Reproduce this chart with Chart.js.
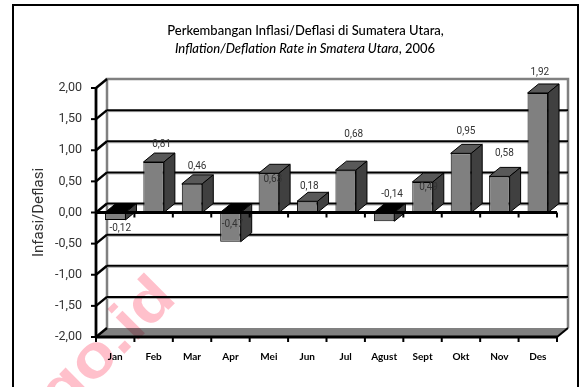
<!DOCTYPE html>
<html><head><meta charset="utf-8">
<style>html,body{margin:0;padding:0;background:#fff}canvas{display:block}</style>
<script src="https://cdn.jsdelivr.net/npm/chart.js@4/dist/chart.umd.min.js"></script>
</head><body><canvas id="c" width="581" height="387"></canvas>
<script>
const categories = ['Jan','Feb','Mar','Apr','Mei','Jun','Jul','Agust','Sept','Okt','Nov','Des'];
const inflasi = [-0.12,0.81,0.46,-0.47,0.63,0.18,0.68,-0.14,0.49,0.95,0.58,1.92];
const titleLine1 = 'Perkembangan Inflasi/Deflasi di Sumatera Utara,';
const titleLine2Italic = 'Inflation/Deflation Rate in Smatera Utara';
const titleLine2Plain = ', 2006';
const axisTitle = 'Infasi/Deflasi';
const watermark = 'go.id';

// label placement relative to each bar (layout, not data)
const labelDx = [5,8,5,2,4,2,8,8,6,5,5,2];
const labelDy = [9,-18,-17,-17,6,-15,-36,-27,6,-22,-23,-20];
const DEPTH_X = 11, DEPTH_Y = 9;
const comma = v => v.toFixed(2).replace('.',',');
const NARROW = 'Roboto,sans-serif';

const chart3d = {
  id:'chart3d',
  beforeDatasetsDraw(chart){
    const c = chart.ctx, y = chart.scales.y;
    const a = chart.chartArea;
    const L = a.left, R = a.right, T = a.top, B = a.bottom;
    c.save();
    // frame
    c.strokeStyle='#000'; c.lineWidth=2;
    c.strokeRect(13,5,565,400);
    // floor
    c.fillStyle='#808080';
    c.beginPath();c.moveTo(L,B);c.lineTo(L+DEPTH_X,B-DEPTH_Y);c.lineTo(R+DEPTH_X,B-DEPTH_Y);c.lineTo(R,B);c.closePath();c.fill();
    // walls
    c.strokeStyle='#808080'; c.lineWidth=2.5;
    c.beginPath();c.moveTo(L+DEPTH_X,B-DEPTH_Y);c.lineTo(L+DEPTH_X,T-DEPTH_Y);c.lineTo(R+DEPTH_X,T-DEPTH_Y);c.lineTo(R+DEPTH_X,B-DEPTH_Y);c.stroke();
    // grid lines on the back wall and the diagonals on the side wall
    y.ticks.forEach(t=>{
      const p = y.getPixelForValue(t.value);
      c.strokeStyle='#000'; c.lineWidth=2.4;
      c.beginPath();c.moveTo(L,p);c.lineTo(L+DEPTH_X,p-DEPTH_Y);c.stroke();
      c.lineWidth=2; c.beginPath();c.moveTo(L-5,p);c.lineTo(L,p);c.stroke();
      if(t.value===y.max||t.value===y.min) return;
      c.strokeStyle='#a8a8a8'; c.lineWidth=1;
      c.beginPath();c.moveTo(L+DEPTH_X,p-DEPTH_Y+1.5);c.lineTo(R+DEPTH_X,p-DEPTH_Y+1.5);c.stroke();
      c.strokeStyle='#000'; c.lineWidth=2;
      c.beginPath();c.moveTo(L+DEPTH_X,p-DEPTH_Y);c.lineTo(R+DEPTH_X,p-DEPTH_Y);c.stroke();
    });
    // front-right floor diagonal
    c.strokeStyle='#000'; c.lineWidth=2;
    c.beginPath();c.moveTo(R,B);c.lineTo(R+DEPTH_X,B-DEPTH_Y);c.stroke();
    // bar depth faces
    const z = y.getPixelForValue(0);
    const meta = chart.getDatasetMeta(0);
    c.strokeStyle='#000'; c.lineWidth=1;
    meta.data.forEach(b=>{
      const w = b.width/2, l = b.x-w, r = b.x+w;
      const top = Math.min(b.y,z), bot = Math.max(b.y,z);
      c.fillStyle = b.y<z ? '#595959' : '#000';
      c.beginPath();c.moveTo(l,top);c.lineTo(l+DEPTH_X,top-DEPTH_Y);c.lineTo(r+DEPTH_X,top-DEPTH_Y);c.lineTo(r,top);c.closePath();c.fill();c.stroke();
      c.fillStyle='#404040';
      c.beginPath();c.moveTo(r,top);c.lineTo(r+DEPTH_X,top-DEPTH_Y);c.lineTo(r+DEPTH_X,bot-DEPTH_Y);c.lineTo(r,bot);c.closePath();c.fill();c.stroke();
    });
    c.restore();
  },
  afterDatasetsDraw(chart){
    const c = chart.ctx, y = chart.scales.y;
    const a = chart.chartArea;
    const z = y.getPixelForValue(0);
    c.save();
    c.strokeStyle='#000';
    // value axis
    c.lineWidth=2.8;
    c.beginPath();c.moveTo(a.left,a.top-1);c.lineTo(a.left,a.bottom+1);c.stroke();
    // category axis at zero and at the bottom
    [z,a.bottom].forEach(p=>{
      c.lineWidth=2.8;
      c.beginPath();c.moveTo(a.left,p);c.lineTo(a.right,p);c.stroke();
      c.lineWidth=2;
      for(let i=0;i<=categories.length;i++){
        const px = a.left+(a.right-a.left)*i/categories.length;
        c.beginPath();c.moveTo(px,p);c.lineTo(px,p+5);c.stroke();
      }
    });
    // value labels
    c.fillStyle='#333'; c.font='10px '+NARROW; c.textAlign='center'; c.textBaseline='middle';
    chart.getDatasetMeta(0).data.forEach((b,i)=>{
      c.fillText(comma(inflasi[i]), b.x+labelDx[i], b.y+labelDy[i]);
    });
    c.restore();
  },
  afterDraw(chart){
    const c = chart.ctx;
    c.save();
    // second title line
    c.fillStyle='#000'; c.textBaseline='middle'; c.textAlign='left';
    const fi='italic 500 13px Lato', fp='500 13px Lato';
    c.font=fi; const w1=c.measureText(titleLine2Italic).width;
    c.font=fp; const w2=c.measureText(titleLine2Plain).width;
    const x0=305-(w1+w2)/2;
    c.font=fi; c.fillText(titleLine2Italic,x0,49);
    c.font=fp; c.fillText(titleLine2Plain,x0+w1,49);
    // watermark
    c.globalCompositeOperation='multiply';
    c.translate(178,300); c.rotate(-Math.PI/4); c.scale(1.15,1);
    c.fillStyle='#ffc0cb'; c.font='bold 60px "Liberation Sans"';
    c.textAlign='right'; c.textBaseline='alphabetic';
    c.fillText(watermark,0,0);
    c.restore();
  }
};

new Chart(document.getElementById('c'),{
  type:'bar',
  data:{labels:categories,datasets:[{data:inflasi,backgroundColor:'#808080',borderColor:'#000',borderWidth:1,barPercentage:0.8,categoryPercentage:0.667}]},
  plugins:[chart3d],
  options:{
    responsive:false,animation:false,
    layout:{padding:{left:54,right:24,top:23,bottom:0}},
    plugins:{
      legend:{display:false},tooltip:{enabled:false},
      title:{display:true,text:titleLine1,color:'#000',font:{family:'Lato',size:13,weight:'500'},padding:{top:0,bottom:49.4}}
    },
    scales:{
      x:{grid:{display:false},border:{display:false},
        ticks:{color:'#000',padding:6,maxRotation:0,autoSkip:false,font:{family:'Lato',size:10,weight:'700'}},
        afterFit(s){s.height=50;}},
      y:{min:-2,max:2,grid:{display:false},border:{display:false},
        ticks:{stepSize:0.5,padding:6,color:'#333',font:{family:NARROW,size:12.5},callback:v=>comma(v)},
        title:{display:true,text:axisTitle,color:'#333',font:{family:NARROW,size:15},padding:{top:-24,bottom:0}},
        afterFit(s){s.width=42;}}
    }
  }
});
</script></body></html>
